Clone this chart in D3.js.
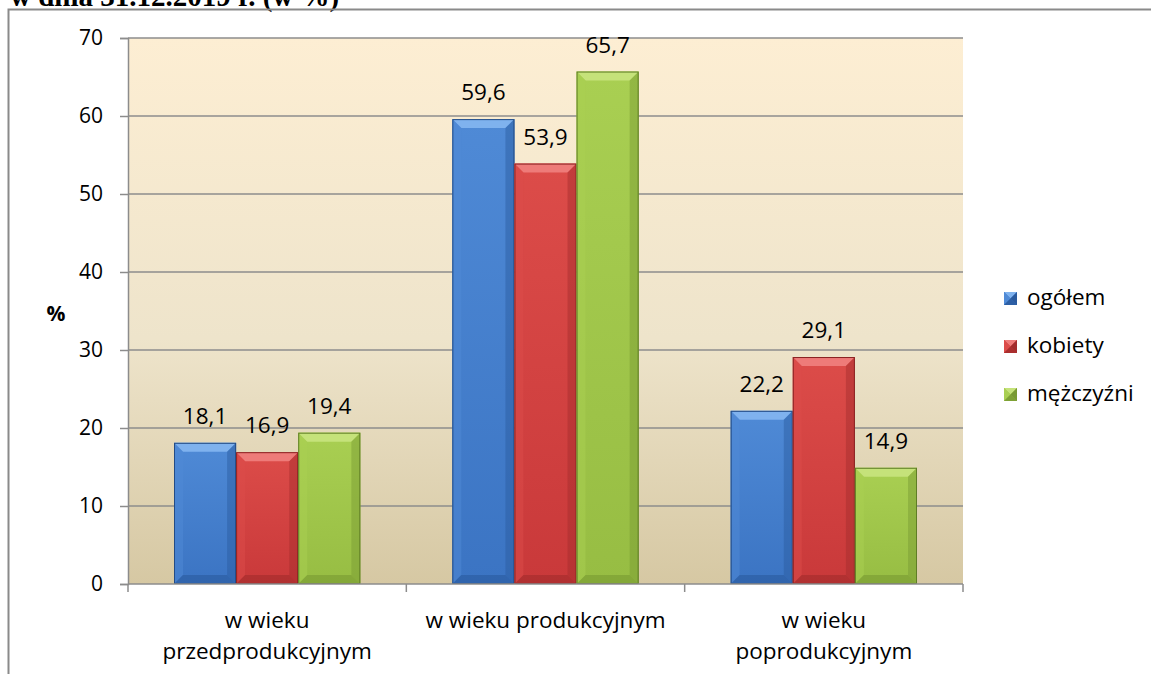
<!DOCTYPE html>
<html>
<head>
<meta charset="utf-8">
<script src="https://cdn.jsdelivr.net/npm/d3@7"></script>
<style>
  body { margin: 0; background: #fff; }
  svg { display: block; }
  text { font-family: "Open Sans", Lato, sans-serif; fill: #000; }
</style>
</head>
<body>
<div id="chart"></div>
<script>
// data
var categories = [["w wieku", "przedprodukcyjnym"], ["w wieku produkcyjnym"], ["w wieku", "poprodukcyjnym"]];
var seriesNames = ["ogółem", "kobiety", "mężczyźni"];
var ogolem = [18.1, 59.6, 22.2];
var kobiety = [16.9, 53.9, 29.1];
var mezczyzni = [19.4, 65.7, 14.9];
var yTicks = [0, 10, 20, 30, 40, 50, 60, 70];

var seriesValues = [ogolem, kobiety, mezczyzni];
var palette = [
  { top: "#7fb2ee", light: "#4f8ad6", mid: "#3b74c3", dark: "#2a5a9e", edge: "#234c86" },
  { top: "#ee7b79", light: "#dc4c49", mid: "#c9393a", dark: "#a22c2c", edge: "#8a2323" },
  { top: "#c5e27a", light: "#a9cf52", mid: "#97bd43", dark: "#789a32", edge: "#5f7d25" }
];

var W = 1151, H = 674;
var plot = { left: 128, right: 963, top: 38, bottom: 584 };

var svg = d3.select("#chart").append("svg")
  .attr("width", W)
  .attr("height", H);

var defs = svg.append("defs");
var bg = defs.append("linearGradient").attr("id", "bg")
  .attr("x1", 0).attr("y1", 0).attr("x2", 0).attr("y2", 1);
bg.append("stop").attr("offset", "0%").attr("stop-color", "#fdeed3");
bg.append("stop").attr("offset", "55%").attr("stop-color", "#eee4cb");
bg.append("stop").attr("offset", "100%").attr("stop-color", "#d6c8a3");

palette.forEach(function (p, i) {
  var g = defs.append("linearGradient").attr("id", "bar" + i)
    .attr("x1", 0).attr("y1", 0).attr("x2", 0).attr("y2", 1);
  g.append("stop").attr("offset", "0%").attr("stop-color", p.light);
  g.append("stop").attr("offset", "100%").attr("stop-color", p.mid);
});

// title line, cut off at the top of the picture
svg.append("text")
  .attr("x", 10)
  .attr("y", 6)
  .style("font-family", "'Liberation Serif', 'DejaVu Serif', serif")
  .style("font-weight", "bold")
  .style("font-size", "29px")
  .text("w dnia 31.12.2019 r. (w %)");

// outer frame (top and left edges visible)
svg.append("path")
  .attr("d", "M8.5," + H + " V9.5 H" + W)
  .attr("fill", "none")
  .attr("stroke", "#8a8a8a")
  .attr("stroke-width", 2);

var y = d3.scaleLinear().domain([0, 70]).range([plot.bottom, plot.top]);
var x0 = d3.scaleBand().domain(d3.range(categories.length)).range([plot.left, plot.right]).padding(0);
var x1 = d3.scaleBand().domain(d3.range(seriesNames.length))
  .range([46, x0.bandwidth() - 46]).padding(0);

svg.append("rect")
  .attr("x", plot.left).attr("y", plot.top)
  .attr("width", plot.right - plot.left).attr("height", plot.bottom - plot.top)
  .attr("fill", "url(#bg)");

// gridlines
svg.append("g").selectAll("line")
  .data(yTicks.filter(function (d) { return d > 0; }))
  .enter().append("line")
  .attr("x1", plot.left).attr("x2", plot.right)
  .attr("y1", function (d) { return y(d); }).attr("y2", function (d) { return y(d); })
  .attr("stroke", "#8c8c8c").attr("stroke-width", 1.5);

// y axis
var yAxis = svg.append("g")
  .attr("transform", "translate(" + plot.left + ",0)")
  .call(d3.axisLeft(y).tickValues(yTicks).tickSize(8).tickPadding(17).tickFormat(d3.format("d")));
yAxis.select(".domain").attr("stroke", "#8c8c8c").attr("stroke-width", 1.5);
yAxis.selectAll(".tick line").attr("stroke", "#8c8c8c").attr("stroke-width", 1.5);
yAxis.selectAll(".tick text").style("font-size", "21px").style("font-family", "'Open Sans', sans-serif");

svg.append("text")
  .attr("x", 56).attr("y", 321)
  .attr("text-anchor", "middle")
  .style("font-size", "21px").style("font-weight", "bold")
  .text("%");

// bars
var bev = 9;
var groups = svg.append("g").selectAll("g")
  .data(categories)
  .enter().append("g")
  .attr("transform", function (d, i) { return "translate(" + x0(i) + ",0)"; });

var bars = groups.selectAll("g.bar")
  .data(function (d, ci) {
    return seriesValues.map(function (vals, si) { return { s: si, c: ci, v: vals[ci] }; });
  })
  .enter().append("g").attr("class", "bar");

bars.each(function (d) {
  var g = d3.select(this);
  var p = palette[d.s];
  var bx = x1(d.s), bw = x1.bandwidth();
  var by = y(d.v), bh = y(0) - y(d.v);
  g.append("rect")
    .attr("x", bx).attr("y", by).attr("width", bw).attr("height", bh)
    .attr("fill", "url(#bar" + d.s + ")");
  // bevel: top, left, right, bottom
  g.append("polygon")
    .attr("points", [[bx, by], [bx + bw, by], [bx + bw - bev, by + bev], [bx + bev, by + bev]].join(" "))
    .attr("fill", p.top);
  g.append("polygon")
    .attr("points", [[bx, by], [bx + bev, by + bev], [bx + bev, by + bh - bev], [bx, by + bh]].join(" "))
    .attr("fill", p.light).attr("opacity", 0.5);
  g.append("polygon")
    .attr("points", [[bx + bw, by], [bx + bw - bev, by + bev], [bx + bw - bev, by + bh - bev], [bx + bw, by + bh]].join(" "))
    .attr("fill", p.dark).attr("opacity", 0.45);
  g.append("polygon")
    .attr("points", [[bx, by + bh], [bx + bev, by + bh - bev], [bx + bw - bev, by + bh - bev], [bx + bw, by + bh]].join(" "))
    .attr("fill", p.dark).attr("opacity", 0.6);
  g.append("rect")
    .attr("x", bx + 0.5).attr("y", by + 0.5).attr("width", bw - 1).attr("height", bh - 1)
    .attr("fill", "none").attr("stroke", p.edge).attr("stroke-width", 1);
  g.append("text")
    .attr("x", bx + bw / 2).attr("y", by - 19)
    .attr("text-anchor", "middle")
    .style("font-size", "22.5px")
    .text(d3.format(".1f")(d.v).replace(".", ","));
});

// x axis
var xAxis = svg.append("g");
xAxis.append("line")
  .attr("x1", plot.left).attr("x2", plot.right)
  .attr("y1", plot.bottom).attr("y2", plot.bottom)
  .attr("stroke", "#8c8c8c").attr("stroke-width", 1.5);
xAxis.selectAll("line.tk")
  .data(d3.range(categories.length + 1))
  .enter().append("line").attr("class", "tk")
  .attr("x1", function (i) { return plot.left + i * x0.bandwidth(); })
  .attr("x2", function (i) { return plot.left + i * x0.bandwidth(); })
  .attr("y1", plot.bottom).attr("y2", plot.bottom + 8)
  .attr("stroke", "#8c8c8c").attr("stroke-width", 1.5);

xAxis.selectAll("text.cat")
  .data(categories)
  .enter().append("text").attr("class", "cat")
  .attr("text-anchor", "middle")
  .style("font-size", "22.5px")
  .each(function (lines, i) {
    var t = d3.select(this);
    lines.forEach(function (ln, k) {
      t.append("tspan")
        .attr("x", x0(i) + x0.bandwidth() / 2)
        .attr("y", 628 + k * 31)
        .text(ln);
    });
  });

// legend
var legend = svg.append("g").selectAll("g")
  .data(seriesNames)
  .enter().append("g")
  .attr("transform", function (d, i) { return "translate(1004," + (292 + i * 48) + ")"; });
legend.each(function (name, i) {
  var g = d3.select(this);
  var p = palette[i];
  var s = 13;
  g.append("rect").attr("width", s).attr("height", s).attr("fill", p.mid);
  g.append("polygon").attr("points", [[0, 0], [s, 0], [s / 2, s / 2]].join(" ")).attr("fill", p.top);
  g.append("polygon").attr("points", [[0, 0], [s / 2, s / 2], [0, s]].join(" ")).attr("fill", p.light);
  g.append("polygon").attr("points", [[s, 0], [s / 2, s / 2], [s, s]].join(" ")).attr("fill", p.dark);
  g.append("polygon").attr("points", [[0, s], [s / 2, s / 2], [s, s]].join(" ")).attr("fill", p.dark).attr("opacity", 0.8);
  g.append("text").attr("x", 23).attr("y", 13)
    .style("font-size", "22.5px")
    .text(name);
});
</script>
</body>
</html>
